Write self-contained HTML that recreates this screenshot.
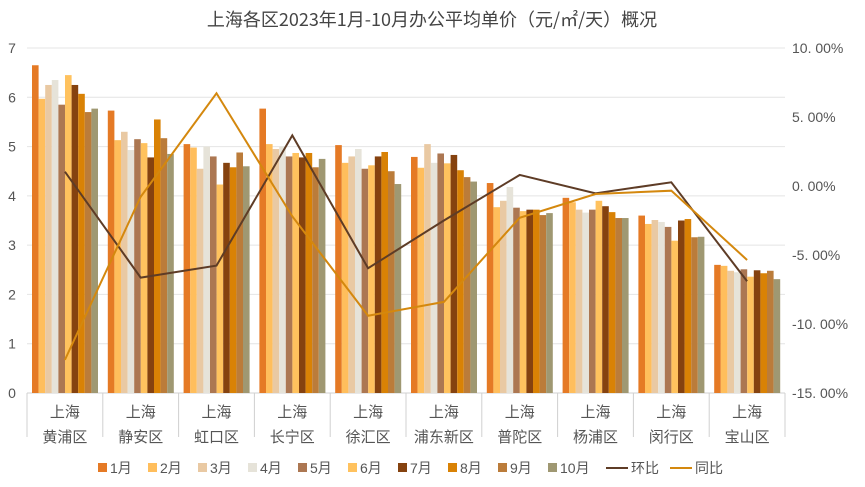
<!DOCTYPE html>
<html><head><meta charset="utf-8"><style>
body{margin:0;background:#fff;}
svg{display:block;font-family:"Liberation Sans","Noto Sans CJK SC",sans-serif;}
</style></head><body>
<svg id="chart" width="865" height="487" viewBox="0 0 865 487">
<text x="432" y="26" text-anchor="middle" font-size="18" fill="#444" style="font-family:'Noto Sans CJK SC',sans-serif">上海各区2023年1月-10月办公平均单价（元/㎡/天）概况</text>
<g id="grid"></g><g id="bars"></g><g id="lines"></g><g id="axes"></g><g id="legend"></g>
</svg>
<script>
const districts=["黄浦区","静安区","虹口区","长宁区","徐汇区","浦东新区","普陀区","杨浦区","闵行区","宝山区"];
const months=["1月","2月","3月","4月","5月","6月","7月","8月","9月","10月"];
const m1=[6.65,5.73,5.05,5.77,5.03,4.79,4.26,3.96,3.60,2.60];
const m2=[5.97,5.13,4.98,5.05,4.67,4.57,3.77,3.87,3.43,2.58];
const m3=[6.25,5.30,4.55,4.95,4.80,5.05,3.90,3.72,3.51,2.48];
const m4=[6.35,4.93,5.00,5.00,4.95,4.67,4.18,3.66,3.47,2.45];
const m5=[5.85,5.15,4.80,4.80,4.55,4.86,3.76,3.72,3.37,2.51];
const m6=[6.45,5.07,4.23,4.87,4.62,4.66,3.69,3.90,3.09,2.36];
const m7=[6.25,4.78,4.67,4.78,4.80,4.83,3.72,3.79,3.50,2.49];
const m8=[6.07,5.55,4.58,4.87,4.89,4.52,3.72,3.67,3.53,2.43];
const m9=[5.70,5.17,4.88,4.58,4.50,4.38,3.61,3.55,3.16,2.48];
const m10=[5.77,4.85,4.60,4.75,4.24,4.29,3.65,3.55,3.17,2.31];
const hb=[1.04,-6.64,-5.77,3.67,-5.96,-2.5,0.8,-0.53,0.27,-6.9];
const tb=[-12.6,-0.78,6.72,-2.2,-9.4,-8.4,-2.3,-0.58,-0.34,-5.36];
const leftTicks=[0,1,2,3,4,5,6,7];
const rightTicks=[10,5,0,-5,-10,-15];
const series=[m1,m2,m3,m4,m5,m6,m7,m8,m9,m10];
const colors=["#E57A25","#FFBE5C","#E9C9A3","#E6E3D9","#AC7752","#FFC25E","#85420F","#D98205","#BB7C3A","#9F9872"];
const NS="http://www.w3.org/2000/svg";
const L=27,R=785,T=48,B=393;
const yL=v=>B-(v/7)*(B-T);
const yR=p=>B-((p+15)/25)*(B-T);
const gw=(R-L)/districts.length;
const xC=i=>L+gw*(i+0.5);
function mk(tag,attrs,parent,text){const e=document.createElementNS(NS,tag);for(const k in attrs)e.setAttribute(k,attrs[k]);if(text!==undefined)e.textContent=text;parent.appendChild(e);return e;}
const grid=document.getElementById('grid'),bars=document.getElementById('bars'),lines=document.getElementById('lines'),axes=document.getElementById('axes'),legend=document.getElementById('legend');
leftTicks.forEach(t=>{
 const g=mk('line',{x1:L,x2:R,y1:yL(t),y2:yL(t),stroke:t===0?'#d0d0d0':'#e4e4e4','stroke-width':1},grid);
 
 const tx=mk('text',{x:12,y:yL(t)+5,'font-size':14,fill:'#555','text-anchor':'middle'},axes,String(t));
 
});
rightTicks.forEach(t=>{
 const tx=mk('text',{x:792,y:yR(t)+5,'font-size':14,fill:'#555'},axes,(t<0?'-':'')+Math.abs(t).toFixed(2).replace('.','. ')+'%');
 
});
const bw=6.6,off=5;
districts.forEach((d,i)=>{
 const x0=L+gw*i+off;
 series.forEach((s,j)=>{
  const r=mk('rect',{x:x0+j*bw,y:yL(s[i]),width:bw,height:B-yL(s[i]),fill:colors[j]},bars);
  
 });
 const sep=mk('line',{x1:L+gw*i,x2:L+gw*i,y1:B,y2:437,stroke:'#d0d0d0'},axes);
 
 const a=mk('text',{x:xC(i),y:417,'font-size':15,fill:'#555','text-anchor':'middle'},axes,'上海');
 
 const b=mk('text',{x:xC(i),y:442,'font-size':15,fill:'#555','text-anchor':'middle'},axes,d);
 
});
const sepEnd=mk('line',{x1:R,x2:R,y1:B,y2:437,stroke:'#d0d0d0'},axes);

const p1=mk('polyline',{points:hb.map((v,i)=>xC(i)+','+yR(v)).join(' '),fill:'none',stroke:'#5E3C26','stroke-width':2},lines);

const p2=mk('polyline',{points:tb.map((v,i)=>xC(i)+','+yR(v)).join(' '),fill:'none',stroke:'#D4880E','stroke-width':2},lines);

let lx=98;
months.forEach((m,j)=>{
 const r=mk('rect',{x:lx,y:463,width:9,height:9,fill:colors[j]},legend);
 
 const t=mk('text',{x:lx+12,y:473,'font-size':14,fill:'#555'},legend,m);
 
 lx+=(m.length>2?58:50);
});
[["环比","#5E3C26"],["同比","#D4880E"]].forEach(([n,c])=>{
 const l=mk('line',{x1:lx,x2:lx+22,y1:468,y2:468,stroke:c,'stroke-width':2},legend);
 
 const t=mk('text',{x:lx+25,y:473,'font-size':14,fill:'#555'},legend,n);
 
 lx+=64;
});
</script>
</body></html>
